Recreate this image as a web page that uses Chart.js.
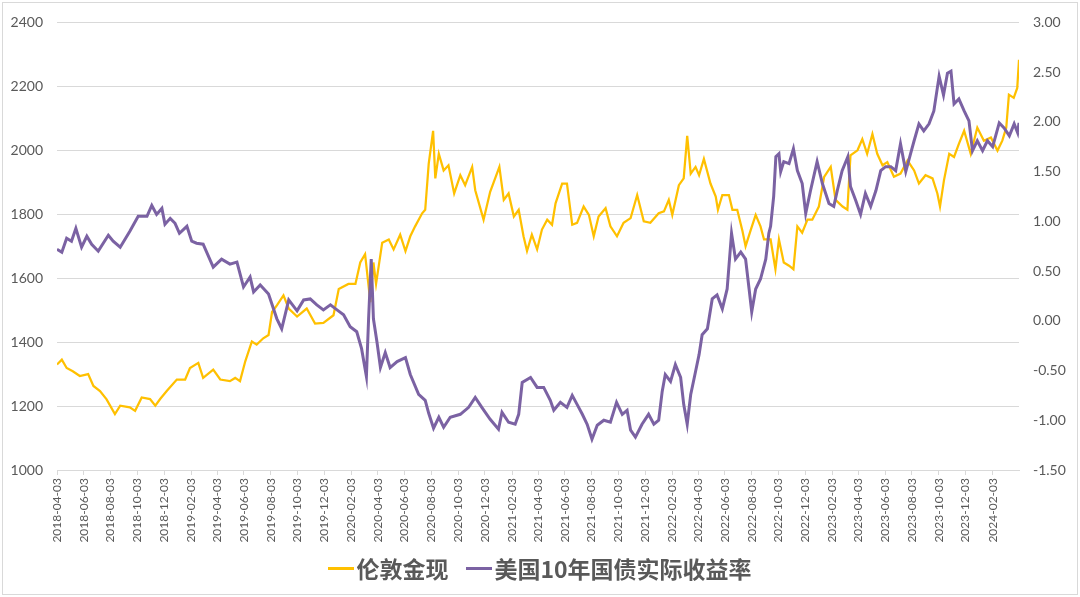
<!DOCTYPE html>
<html>
<head>
<meta charset="utf-8">
<script src="https://cdn.jsdelivr.net/npm/chart.js@4"></script>
<style>
  html, body { margin: 0; padding: 0; background: #fff; }
  #wrap { position: relative; width: 1080px; height: 597px; }
  #legend {
    position: absolute; left: 0; right: 0; top: 551px; height: 34px;
    display: flex; justify-content: center; align-items: center;
    font-family: "Noto Sans CJK SC", sans-serif; font-size: 23px; font-weight: bold; color: #595959;
  }
  .item { display: flex; align-items: center; margin: 0 9px; }
  .swatch { width: 26px; height: 3px; margin-right: 2px; }
</style>
</head>
<body>
<div id="wrap">
  <canvas id="chart" width="1080" height="597"></canvas>
  <div id="legend"></div>
</div>
<script>
// bi-monthly tick labels on the date axis
const tickLabels = [
  '2018-04-03', '2018-06-03', '2018-08-03', '2018-10-03', '2018-12-03',
  '2019-02-03', '2019-04-03', '2019-06-03', '2019-08-03', '2019-10-03', '2019-12-03',
  '2020-02-03', '2020-04-03', '2020-06-03', '2020-08-03', '2020-10-03', '2020-12-03',
  '2021-02-03', '2021-04-03', '2021-06-03', '2021-08-03', '2021-10-03', '2021-12-03',
  '2022-02-03', '2022-04-03', '2022-06-03', '2022-08-03', '2022-10-03', '2022-12-03',
  '2023-02-03', '2023-04-03', '2023-06-03', '2023-08-03', '2023-10-03', '2023-12-03',
  '2024-02-03'
];
const startDate = '2018-04-03';
const endDate = '2024-04-03';

const seriesNames = ['伦敦金现', '美国10年国债实际收益率'];

// London spot gold (left axis)
const goldDates = [
  '2018-04-03', '2018-04-14', '2018-04-25', '2018-05-09', '2018-05-25', '2018-06-13', '2018-06-25',
  '2018-07-10', '2018-07-25', '2018-08-13', '2018-08-25', '2018-09-16', '2018-09-28', '2018-10-13',
  '2018-11-01', '2018-11-13', '2018-11-24', '2018-12-09',
  '2019-01-01', '2019-01-20', '2019-01-31', '2019-02-19', '2019-03-02', '2019-03-25', '2019-04-10',
  '2019-05-02', '2019-05-14', '2019-05-25', '2019-06-06', '2019-06-21', '2019-07-02', '2019-07-17',
  '2019-07-29', '2019-08-06', '2019-08-17', '2019-09-01', '2019-09-13', '2019-10-02', '2019-10-24',
  '2019-11-12', '2019-12-01', '2019-12-24',
  '2020-01-05', '2020-01-27', '2020-02-12', '2020-02-23', '2020-03-05', '2020-03-17', '2020-03-24',
  '2020-03-30', '2020-04-13', '2020-04-28', '2020-05-09', '2020-05-24', '2020-06-05', '2020-06-16',
  '2020-06-27', '2020-07-13', '2020-07-20', '2020-07-28', '2020-08-07', '2020-08-12', '2020-08-20',
  '2020-08-31', '2020-09-11', '2020-09-24', '2020-10-08', '2020-10-19', '2020-11-04', '2020-11-11',
  '2020-11-30', '2020-12-15',
  '2021-01-05', '2021-01-15', '2021-01-26', '2021-02-07', '2021-02-18', '2021-03-01', '2021-03-09',
  '2021-03-20', '2021-04-01', '2021-04-12', '2021-04-24', '2021-05-05', '2021-05-13', '2021-05-28',
  '2021-06-08', '2021-06-20', '2021-07-01', '2021-07-16', '2021-07-28', '2021-08-08', '2021-08-19',
  '2021-09-04', '2021-09-15', '2021-09-30', '2021-10-15', '2021-10-31', '2021-11-15', '2021-11-30',
  '2021-12-15',
  '2022-01-03', '2022-01-15', '2022-01-26', '2022-02-03', '2022-02-18', '2022-03-01', '2022-03-09',
  '2022-03-17', '2022-03-28', '2022-04-05', '2022-04-16', '2022-05-01', '2022-05-13', '2022-05-18',
  '2022-05-28', '2022-06-12', '2022-06-20', '2022-07-01', '2022-07-13', '2022-07-20', '2022-08-01',
  '2022-08-12', '2022-08-23', '2022-08-31', '2022-09-15', '2022-09-26', '2022-10-04', '2022-10-15',
  '2022-10-27', '2022-11-06', '2022-11-15', '2022-11-26', '2022-12-08', '2022-12-19',
  '2023-01-03', '2023-01-15', '2023-01-30', '2023-02-10', '2023-02-26', '2023-03-09', '2023-03-16',
  '2023-04-01', '2023-04-12', '2023-04-23', '2023-05-05', '2023-05-16', '2023-05-28', '2023-06-08',
  '2023-06-23', '2023-07-08', '2023-07-24', '2023-08-08', '2023-08-19', '2023-09-03', '2023-09-19',
  '2023-09-30', '2023-10-06', '2023-10-15', '2023-10-27', '2023-11-07', '2023-11-18', '2023-11-30',
  '2023-12-15', '2023-12-30',
  '2024-01-14', '2024-01-30', '2024-02-14', '2024-02-25', '2024-03-05', '2024-03-11', '2024-03-22',
  '2024-03-30', '2024-04-03'
];
const goldValues = [
  1330, 1345, 1319, 1309, 1294, 1300, 1263,
  1247, 1221, 1175, 1201, 1196, 1185, 1227,
  1222, 1201, 1222, 1247,
  1283, 1283, 1319, 1335, 1288, 1314, 1283,
  1278, 1288, 1278, 1340, 1402, 1392, 1412,
  1422, 1494, 1515, 1546, 1505, 1480, 1505,
  1458, 1460, 1484,
  1566, 1582, 1582, 1649, 1675, 1525, 1649,
  1582, 1711, 1721, 1690, 1736, 1685, 1731,
  1762, 1803, 1814, 1958, 2061, 1912, 1989,
  1937, 1953, 1865, 1922, 1891, 1948, 1875,
  1783, 1870,
  1948, 1845, 1865, 1793, 1814, 1731, 1685,
  1736, 1690, 1752, 1783, 1767, 1834, 1896,
  1896, 1767, 1773, 1824, 1798, 1731, 1793,
  1819, 1762, 1731, 1773, 1788, 1860, 1778,
  1773,
  1803, 1809, 1845, 1798, 1891, 1912, 2045,
  1927, 1948, 1922, 1973, 1896, 1855, 1814,
  1860, 1860, 1814, 1814, 1747, 1700, 1752,
  1798, 1762, 1721, 1721, 1628, 1721, 1649,
  1639, 1628, 1762, 1742, 1783, 1783,
  1824, 1917, 1948, 1845, 1824, 1814, 1984,
  2000, 2035, 1989, 2051, 1989, 1953, 1963,
  1917, 1927, 1968, 1937, 1896, 1922, 1912,
  1865, 1824, 1906, 1989, 1979, 2020, 2061,
  1989, 2071,
  2030, 2040, 1999, 2030, 2071, 2174, 2164,
  2195, 2283
];

// US 10Y real yield (right axis)
const yieldDates = [
  '2018-04-03', '2018-04-14', '2018-04-25', '2018-05-06', '2018-05-16', '2018-05-29', '2018-06-10',
  '2018-06-21', '2018-07-06', '2018-07-29', '2018-08-09', '2018-08-25', '2018-09-16', '2018-10-05',
  '2018-10-25', '2018-11-05', '2018-11-16', '2018-11-28', '2018-12-05', '2018-12-17', '2018-12-28',
  '2019-01-07', '2019-01-24', '2019-02-04', '2019-02-15', '2019-03-02', '2019-03-25', '2019-04-13',
  '2019-05-02', '2019-05-18', '2019-06-02', '2019-06-17', '2019-06-25', '2019-07-10', '2019-07-29',
  '2019-08-17', '2019-08-28', '2019-09-13', '2019-10-02', '2019-10-17', '2019-11-01', '2019-11-16',
  '2019-12-01', '2019-12-17',
  '2020-01-01', '2020-01-16', '2020-01-31', '2020-02-15', '2020-02-26', '2020-03-08', '2020-03-13',
  '2020-03-19', '2020-03-24', '2020-04-01', '2020-04-09', '2020-04-20', '2020-05-01', '2020-05-17',
  '2020-06-05', '2020-06-16', '2020-07-05', '2020-07-20', '2020-07-28', '2020-08-08', '2020-08-20',
  '2020-08-31', '2020-09-15', '2020-10-08', '2020-10-27', '2020-11-11', '2020-11-26', '2020-12-15',
  '2021-01-03', '2021-01-11', '2021-01-26', '2021-02-10', '2021-02-18', '2021-02-26', '2021-03-17',
  '2021-04-01', '2021-04-16', '2021-05-01', '2021-05-09', '2021-05-24', '2021-06-08', '2021-06-20',
  '2021-07-01', '2021-07-13', '2021-07-24', '2021-08-04', '2021-08-16', '2021-08-31', '2021-09-15',
  '2021-09-29', '2021-10-12', '2021-10-23', '2021-10-31', '2021-11-11', '2021-11-26', '2021-12-11',
  '2021-12-23',
  '2022-01-03', '2022-01-11', '2022-01-18', '2022-01-30', '2022-02-10', '2022-02-22', '2022-03-01',
  '2022-03-09', '2022-03-17', '2022-03-28', '2022-04-05', '2022-04-12', '2022-04-24', '2022-05-05',
  '2022-05-16', '2022-05-28', '2022-06-08', '2022-06-18', '2022-06-27', '2022-07-09', '2022-07-20',
  '2022-07-28', '2022-08-03', '2022-08-12', '2022-08-23', '2022-09-04', '2022-09-11', '2022-09-15',
  '2022-09-22', '2022-09-27', '2022-10-04', '2022-10-08', '2022-10-15', '2022-10-27', '2022-11-06',
  '2022-11-15', '2022-11-26', '2022-12-04', '2022-12-15', '2022-12-30',
  '2023-01-11', '2023-01-26', '2023-02-06', '2023-02-14', '2023-02-25', '2023-03-10', '2023-03-16',
  '2023-03-28', '2023-04-08', '2023-04-19', '2023-05-01', '2023-05-13', '2023-05-24', '2023-06-04',
  '2023-06-16', '2023-06-27', '2023-07-08', '2023-07-20', '2023-07-31', '2023-08-08', '2023-08-19',
  '2023-08-30', '2023-09-11', '2023-09-22', '2023-10-04', '2023-10-14', '2023-10-23', '2023-10-31',
  '2023-11-07', '2023-11-18', '2023-11-30', '2023-12-11', '2023-12-19', '2023-12-30',
  '2024-01-11', '2024-01-22', '2024-02-03', '2024-02-18', '2024-02-29', '2024-03-12', '2024-03-23',
  '2024-03-31', '2024-04-03'
];
const yieldValues = [
  0.72, 0.69, 0.83, 0.80, 0.93, 0.74, 0.85,
  0.77, 0.70, 0.86, 0.80, 0.74, 0.90, 1.05,
  1.05, 1.16, 1.07, 1.13, 0.97, 1.03, 0.98,
  0.88, 0.95, 0.80, 0.78, 0.77, 0.54, 0.62,
  0.57, 0.59, 0.34, 0.44, 0.29, 0.36, 0.27,
  0.02, -0.08, 0.21, 0.10, 0.21, 0.22, 0.16,
  0.11, 0.16,
  0.11, 0.06, -0.06, -0.11, -0.28, -0.56, 0.02,
  0.62, 0.02, -0.21, -0.47, -0.32, -0.47, -0.41,
  -0.37, -0.54, -0.74, -0.80, -0.93, -1.08, -0.97,
  -1.07, -0.97, -0.94, -0.87, -0.77, -0.87, -0.99,
  -1.09, -0.92, -1.02, -1.04, -0.94, -0.62, -0.57,
  -0.67, -0.67, -0.80, -0.90, -0.82, -0.87, -0.75,
  -0.84, -0.94, -1.04, -1.19, -1.05, -1.00, -1.02,
  -0.82, -0.94, -0.90, -1.10, -1.17, -1.04, -0.94,
  -1.04,
  -1.00, -0.71, -0.54, -0.61, -0.44, -0.57, -0.84,
  -1.04, -0.74, -0.51, -0.34, -0.14, -0.08, 0.22,
  0.26, 0.12, 0.32, 0.88, 0.62, 0.69, 0.62,
  0.32, 0.09, 0.32, 0.42, 0.62, 0.88, 0.95,
  1.25, 1.65, 1.68, 1.50, 1.60, 1.58, 1.73,
  1.51, 1.38, 1.08, 1.31, 1.60,
  1.38, 1.18, 1.15, 1.31, 1.51, 1.65, 1.35,
  1.21, 1.07, 1.28, 1.15, 1.31, 1.51, 1.55,
  1.55, 1.51, 1.78, 1.50, 1.68, 1.81, 1.98,
  1.91, 1.98, 2.11, 2.46, 2.27, 2.49, 2.51,
  2.18, 2.23, 2.11, 2.01, 1.71, 1.81,
  1.71, 1.81, 1.75, 1.99, 1.94, 1.86, 1.98,
  1.89, 1.99
];

const goldColor = '#FFC000';
const yieldColor = '#7B62A3';
const textColor = '#595959';
const gridColor = '#D9D9D9';

function dayOf(s) {
  const [y, m, d] = s.split('-').map(Number);
  const [y0, m0, d0] = startDate.split('-').map(Number);
  return (Date.UTC(y, m - 1, d) - Date.UTC(y0, m0 - 1, d0)) / 86400000;
}

const goldPoints = goldDates.map((d, i) => ({ x: dayOf(d), y: goldValues[i] }));
const yieldPoints = yieldDates.map((d, i) => ({ x: dayOf(d), y: yieldValues[i] }));

// light frame round the whole picture
const framePlugin = {
  id: 'frame',
  beforeDraw(chart) {
    const ctx = chart.ctx;
    ctx.save();
    ctx.fillStyle = '#fff';
    ctx.fillRect(0, 0, chart.width, chart.height);
    ctx.strokeStyle = gridColor;
    ctx.lineWidth = 1;
    ctx.strokeRect(2.5, 2.5, chart.width - 5, chart.height - 5);
    ctx.restore();
  }
};

const tickFont = { family: 'Lato, "Liberation Sans", sans-serif', size: 14 };

new Chart(document.getElementById('chart'), {
  type: 'line',
  data: {
    datasets: [
      {
        label: seriesNames[0],
        data: goldPoints,
        yAxisID: 'y',
        borderColor: goldColor,
        backgroundColor: goldColor,
        borderWidth: 2.25,
        pointRadius: 0,
        tension: 0,
        order: 1
      },
      {
        label: seriesNames[1],
        data: yieldPoints,
        yAxisID: 'y2',
        borderColor: yieldColor,
        backgroundColor: yieldColor,
        borderWidth: 3,
        pointRadius: 0,
        tension: 0,
        order: 0
      }
    ]
  },
  options: {
    responsive: false,
    animation: false,
    devicePixelRatio: 1,
    layout: { padding: { top: 17, left: 0, right: 0, bottom: 0 } },
    plugins: {
      legend: { display: false },
      tooltip: { enabled: false }
    },
    scales: {
      x: {
        type: 'linear',
        min: 0,
        max: dayOf(endDate),
        afterBuildTicks: scale => {
          scale.ticks = tickLabels.map(s => ({ value: dayOf(s) }));
        },
        afterFit: scale => { scale.height = 127; },
        grid: { drawOnChartArea: false, drawTicks: true, tickLength: 5, color: gridColor },
        border: { display: true, color: gridColor },
        ticks: {
          autoSkip: false,
          minRotation: 90,
          maxRotation: 90,
          padding: 3,
          color: textColor,
          font: { family: 'Lato, "Liberation Sans", sans-serif', size: 12 },
          callback: (value, index) => tickLabels[index]
        }
      },
      y: {
        position: 'left',
        min: 1000,
        max: 2400,
        afterFit: scale => { scale.width = 57; },
        grid: { color: gridColor, drawTicks: false },
        border: { display: false },
        ticks: {
          stepSize: 200,
          padding: 14,
          color: textColor,
          font: tickFont,
          callback: v => String(v)
        }
      },
      y2: {
        position: 'right',
        min: -1.5,
        max: 3,
        afterFit: scale => { scale.width = 61; },
        grid: { drawOnChartArea: false, drawTicks: false },
        border: { display: false },
        ticks: {
          stepSize: 0.5,
          padding: 14,
          color: textColor,
          font: tickFont,
          callback: v => v.toFixed(2)
        }
      }
    }
  },
  plugins: [framePlugin]
});

// legend below the axis
const legend = document.getElementById('legend');
[[seriesNames[0], goldColor], [seriesNames[1], yieldColor]].forEach(([name, color]) => {
  const item = document.createElement('div');
  item.className = 'item';
  const sw = document.createElement('span');
  sw.className = 'swatch';
  sw.style.background = color;
  const tx = document.createElement('span');
  tx.textContent = name;
  item.appendChild(sw);
  item.appendChild(tx);
  legend.appendChild(item);
});
</script>
</body>
</html>
